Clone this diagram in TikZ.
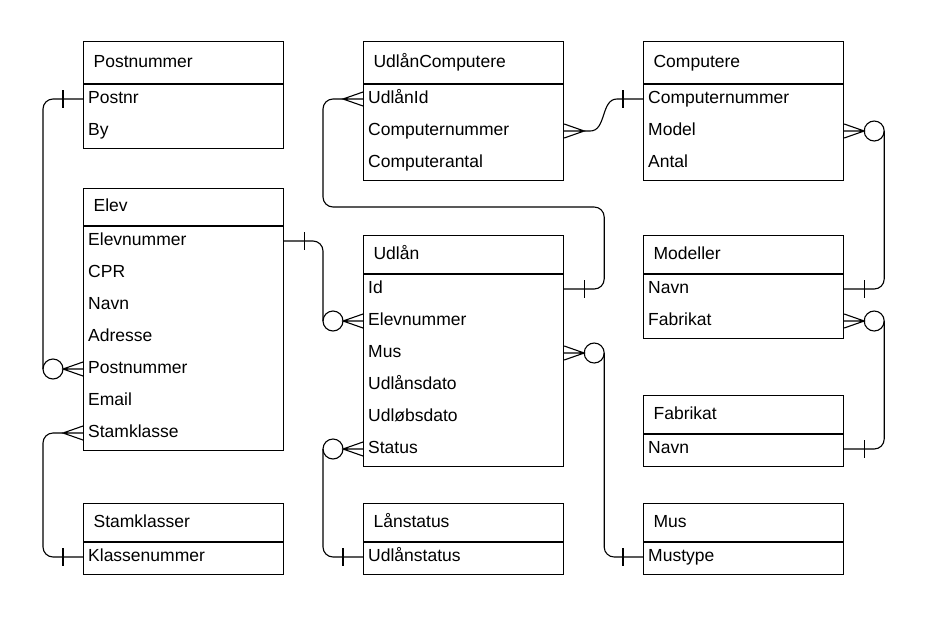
\documentclass[tikz,border=0pt]{standalone}
\usepackage{fontspec}
\setmainfont{Liberation Sans}
\usetikzlibrary{calc}
\begin{document}
\begin{tikzpicture}[x=1pt,y=-1pt,
  hdr/.style={draw, line width=1.2pt, anchor=north west, minimum width=200pt, text width=180pt, inner xsep=10pt, inner ysep=0pt, align=left, text height=13pt, text depth=4pt},
  bodyb/.style={draw, line width=1.2pt, anchor=north west, minimum width=200pt, inner sep=0pt},
  row/.style={anchor=west, inner xsep=5pt, inner ysep=0pt, text height=13pt, text depth=4pt},
  conn/.style={line width=1.1pt, black},
  rc/.style={conn, rounded corners=10pt},
  crowW/.pic={\draw[conn] (0,-7) -- (-20,0) -- (0,7) (-20,0) -- (0,0);},
  crowE/.pic={\draw[conn] (0,-7) -- (20,0) -- (0,7) (20,0) -- (0,0);},
  barW/.pic={\draw[conn] (-20,-9) -- (-20,9);},
  barE/.pic={\draw[conn] (20,-9) -- (20,9);},
  ocW/.pic={\draw[conn] (-30,0) circle (10pt);},
  ocE/.pic={\draw[conn] (30,0) circle (10pt);},
  font=\fontsize{17.5}{21}\selectfont]
\useasboundingbox (0,0) rectangle (926,619);

% Postnummer
\node[hdr, minimum height=42pt] (pn) at (83,41) {Postnummer};
\node[bodyb, minimum height=64pt] (pnb) at (pn.south west) {};
\node[row] (pn-postnr) at (83,99) {Postnr};
\node[row] (pn-by) at (83,131) {By};

% Elev
\node[hdr, minimum height=37pt] (el) at (83,188) {Elev};
\node[bodyb, minimum height=224pt] (elb) at (el.south west) {};
\node[row] (el-elevnr) at (83,241) {Elevnummer};
\node[row] (el-cpr) at (83,273) {CPR};
\node[row] (el-navn) at (83,305) {Navn};
\node[row] (el-adr) at (83,337) {Adresse};
\node[row] (el-postnr) at (83,369) {Postnummer};
\node[row] (el-email) at (83,401) {Email};
\node[row] (el-stam) at (83,433) {Stamklasse};

% Stamklasser
\node[hdr, minimum height=38pt] (st) at (83,503) {Stamklasser};
\node[bodyb, minimum height=32pt] (stb) at (st.south west) {};
\node[row] (st-kl) at (83,557) {Klassenummer};

% UdlånComputere
\node[hdr, minimum height=42pt] (uc) at (363,41) {UdlånComputere};
\node[bodyb, minimum height=96pt] (ucb) at (uc.south west) {};
\node[row] (uc-id) at (363,99) {UdlånId};
\node[row] (uc-cn) at (363,131) {Computernummer};
\node[row] (uc-ca) at (363,163) {Computerantal};

% Udlån
\node[hdr, minimum height=38pt] (ud) at (363,235) {Udlån};
\node[bodyb, minimum height=192pt] (udb) at (ud.south west) {};
\node[row] (ud-id) at (363,289) {Id};
\node[row] (ud-elevnr) at (363,321) {Elevnummer};
\node[row] (ud-mus) at (363,353) {Mus};
\node[row] (ud-dato) at (363,385) {Udlånsdato};
\node[row] (ud-udl) at (363,417) {Udløbsdato};
\node[row] (ud-status) at (363,449) {Status};

% Lånstatus
\node[hdr, minimum height=38pt] (ls) at (363,503) {Lånstatus};
\node[bodyb, minimum height=32pt] (lsb) at (ls.south west) {};
\node[row] (ls-udl) at (363,557) {Udlånstatus};

% Computere
\node[hdr, minimum height=42pt] (co) at (643,41) {Computere};
\node[bodyb, minimum height=96pt] (cob) at (co.south west) {};
\node[row] (co-cn) at (643,99) {Computernummer};
\node[row] (co-model) at (643,131) {Model};
\node[row] (co-antal) at (643,163) {Antal};

% Modeller
\node[hdr, minimum height=38pt] (mo) at (643,235) {Modeller};
\node[bodyb, minimum height=64pt] (mob) at (mo.south west) {};
\node[row] (mo-navn) at (643,289) {Navn};
\node[row] (mo-fab) at (643,321) {Fabrikat};

% Fabrikat
\node[hdr, minimum height=38pt] (fa) at (643,395) {Fabrikat};
\node[bodyb, minimum height=32pt] (fab) at (fa.south west) {};
\node[row] (fa-navn) at (643,449) {Navn};

% Mus
\node[hdr, minimum height=38pt] (mu) at (643,503) {Mus};
\node[bodyb, minimum height=32pt] (mub) at (mu.south west) {};
\node[row] (mu-type) at (643,557) {Mustype};

% --- connectors ---
% Postnr -- Elev.Postnummer
\draw[rc] (pn-postnr.west) -| ($(el-postnr.west)+(-40,0)$);
\pic at (pn-postnr.west) {barW};
\pic at (el-postnr.west) {crowW};
\pic at (el-postnr.west) {ocW};

% Stamklasse -- Klassenummer
\draw[rc] ($(el-stam.west)+(-20,0)$) -| ($(st-kl.west)+(-40,0)$) -- (st-kl.west);
\pic at (el-stam.west) {crowW};
\pic at (st-kl.west) {barW};

% Elev.Elevnummer -- Udlån.Elevnummer
\draw[rc] (el-elevnr.west -| elb.east) -| ($(ud-elevnr.west)+(-40,0)$);
\pic at (el-elevnr.west -| elb.east) {barE};
\pic at (ud-elevnr.west) {crowW};
\pic at (ud-elevnr.west) {ocW};

% UdlånId -- Udlån.Id
\coordinate (udid-e) at (ud-id.west -| udb.east);
\draw[rc] ($(uc-id.west)+(-20,0)$) -| ($(uc-id.west)+(-40,108)$) -| ($(udid-e)+(40,0)$) -- (udid-e);
\pic at (uc-id.west) {crowW};
\pic at (udid-e) {barE};

% UdlånComputere.Computernummer -- Computere.Computernummer
\coordinate (uccn-e) at (uc-cn.west -| ucb.east);
\draw[conn] ($(uccn-e)+(20,0)$) -- ++(6,0) to[out=0,in=180] ($(co-cn.west)+(-26,0)$) -- (co-cn.west);
\pic at (uccn-e) {crowE};
\pic at (co-cn.west) {barW};

% Computere.Model -- Modeller.Navn
\coordinate (com-e) at (co-model.west -| cob.east);
\coordinate (mon-e) at (mo-navn.west -| mob.east);
\draw[rc] ($(com-e)+(40,0)$) |- (mon-e);
\pic at (com-e) {crowE};
\pic at (com-e) {ocE};
\pic at (mon-e) {barE};

% Modeller.Fabrikat -- Fabrikat.Navn
\coordinate (mof-e) at (mo-fab.west -| mob.east);
\coordinate (fan-e) at (fa-navn.west -| fab.east);
\draw[rc] ($(mof-e)+(40,0)$) |- (fan-e);
\pic at (mof-e) {crowE};
\pic at (mof-e) {ocE};
\pic at (fan-e) {barE};

% Udlån.Mus -- Mus.Mustype
\coordinate (udm-e) at (ud-mus.west -| udb.east);
\draw[rc] ($(udm-e)+(40,0)$) |- (mu-type.west);
\pic at (udm-e) {crowE};
\pic at (udm-e) {ocE};
\pic at (mu-type.west) {barW};

% Udlån.Status -- Lånstatus.Udlånstatus
\draw[rc] ($(ud-status.west)+(-40,0)$) |- (ls-udl.west);
\pic at (ud-status.west) {crowW};
\pic at (ud-status.west) {ocW};
\pic at (ls-udl.west) {barW};
\end{tikzpicture}
\end{document}
